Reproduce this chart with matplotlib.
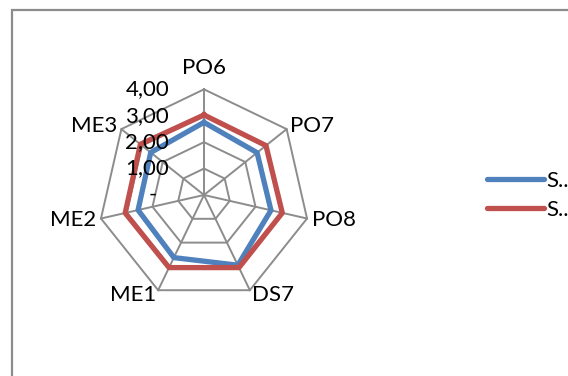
import numpy as np
import matplotlib.pyplot as plt
from matplotlib.lines import Line2D
from matplotlib.patches import Rectangle

plt.rcParams['font.family'] = ['Lato', 'DejaVu Sans']

categories = ['PO6', 'PO7', 'PO8', 'DS7', 'ME1', 'ME2', 'ME3']
series_1 = [2.75, 2.57, 2.60, 2.95, 2.63, 2.56, 2.58]
series_2 = [3.03, 3.00, 3.04, 3.05, 3.05, 3.06, 3.08]
series_names = ['S..', 'S..']
ring_values = [1, 2, 3, 4]
tick_labels = ['-', '1,00', '2,00', '3,00', '4,00']

W, H = 568, 376
FS = 16
fig = plt.figure(figsize=(W / 100, H / 100), dpi=100)

# outer chart frame (runs off the right and bottom edges)
fig.patches.append(Rectangle((12 / W, -0.1), 1.2, (H - 10) / H + 0.1,
                             transform=fig.transFigure, fill=False,
                             edgecolor='#8c8c8c', linewidth=1.6))

# square axes centred on the radar, 26.42 px per unit
cx, cy = 204, H - 195
half = 140
ax = fig.add_axes([(cx - half) / W, (cy - half) / H, 2 * half / W, 2 * half / H])
lim = half / 26.42
ax.set_xlim(-lim, lim)
ax.set_ylim(-lim, lim)
ax.axis('off')

n = len(categories)
angles = np.pi / 2 - np.arange(n) * 2 * np.pi / n
cosa, sina = np.cos(angles), np.sin(angles)

def closed(vals):
    v = np.asarray(vals, dtype=float)
    x = v * cosa
    y = v * sina
    return np.append(x, x[0]), np.append(y, y[0])

grid_kw = dict(color='#8c8c8c', linewidth=1.4, solid_joinstyle='miter')
for r in ring_values:
    gx, gy = closed([r] * n)
    ax.plot(gx, gy, **grid_kw)
top = max(ring_values)
for c, s in zip(cosa, sina):
    ax.plot([0, top * c], [0, top * s], **grid_kw)

colors = ['#4f81bd', '#c0504d']
for vals, col in zip([series_1, series_2], colors):
    sx, sy = closed(vals)
    ax.plot(sx, sy, color=col, linewidth=3.8, solid_joinstyle='round')

# category labels just outside the outer ring
for name, c, s in zip(categories, cosa, sina):
    ha = 'left' if c > 0.1 else ('right' if c < -0.1 else 'center')
    va = 'bottom' if s > 0.9 else 'center'
    ax.annotate(name, (top * c, top * s), xytext=(3.5 * c, 3.5 * s + (5 if s > 0.9 else 0)),
                textcoords='offset points', ha=ha, va=va, fontsize=FS)

# value axis labels
for v, lab in zip([0] + ring_values, tick_labels):
    if lab == '-':
        ax.text(-1.93, v, lab, ha='center', va='center', fontsize=FS)
    else:
        ax.text(-1.32, v, lab, ha='right', va='center', fontsize=FS)

handles = [Line2D([], [], color=col, linewidth=3.8, solid_capstyle='round')
           for col in colors]
fig.legend(handles, series_names, loc='center left',
           bbox_to_anchor=(487 / W, (H - 195.5) / H), frameon=False,
           fontsize=FS, handlelength=2.55, handletextpad=0.1,
           labelspacing=0.4, borderpad=0, borderaxespad=0)

fig.savefig('out.png', dpi=100)
